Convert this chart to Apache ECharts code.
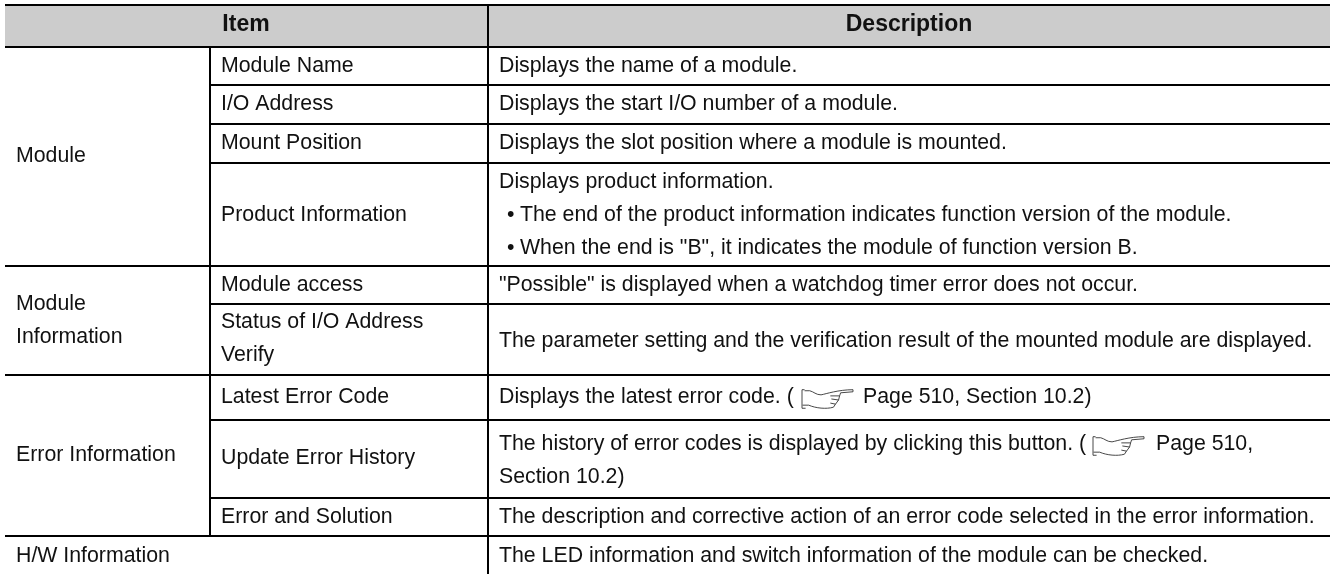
<!DOCTYPE html>
<html><head><meta charset="utf-8">
<style>html,body{margin:0;padding:0;background:#fff}#c{width:1330px;height:574px}</style>
<script src="https://cdn.jsdelivr.net/npm/echarts@6/dist/echarts.min.js"></script>
</head><body><div id="c"></div>
<script>
const headers = ['Item', 'Description'];
const groups = ['Module', 'Module', 'Information', 'Error Information', 'H/W Information'];
const items = ['Module Name', 'I/O Address', 'Mount Position', 'Product Information', 'Module access',
  'Status of I/O Address', 'Verify', 'Latest Error Code', 'Update Error History', 'Error and Solution'];
const descriptions = [
  'Displays the name of a module.',
  'Displays the start I/O number of a module.',
  'Displays the slot position where a module is mounted.',
  'Displays product information.',
  '"Possible" is displayed when a watchdog timer error does not occur.',
  'The parameter setting and the verification result of the mounted module are displayed.',
  'Displays the latest error code. (',
  'The history of error codes is displayed by clicking this button. (',
  'Section 10.2)',
  'The description and corrective action of an error code selected in the error information.',
  'The LED information and switch information of the module can be checked.'
];
const bullets = ['The end of the product information indicates function version of the module.',
  'When the end is "B", it indicates the module of function version B.'];
const pageRefs = ['Page 510, Section 10.2)', 'Page 510,'];

// layout (page pixels, mapped through the hidden axes)
const headerY = 25;
const groupY = [156, 304, 337, 455, 556];
const itemY = [66, 104, 143, 215, 285, 322, 355, 397, 458, 517];
const descY = [66, 104, 143, 182, 285, 341, 397, 444, 477, 517, 556];
const bulletY = [215, 248];
const refX = [863, 1156], refY = [397, 444];
const handX = [802, 1093], handY = [389, 436];
const fullLines = [5, 47, 266, 375, 536];
const innerLines = [85, 124, 163, 304, 420, 498];
const colX = [210, 488];
const left = 5, right = 1330, bottom = 574, innerBottom = 537;

const handPath = 'M3 1L0.5 1L0.5 19L4 19M3 2L8 2C12 3 14 6 19 6C24 5 36 1 50 1L50 3L38 4L37 7L28 7M37 7L36 11L29 10M36 11L33 15L28 14M33 15L31 18C24 20 14 19 7 16L1 16';

const lines = [];
fullLines.forEach(y => lines.push([left, y, right, y]));
innerLines.forEach(y => lines.push([colX[0], y, right, y]));
lines.push([colX[1], left, colX[1], bottom]);
lines.push([colX[0], fullLines[1], colX[0], innerBottom]);

const texts = [];
texts.push([246, headerY, headers[0], 'center', 1]);
texts.push([909, headerY, headers[1], 'center', 1]);
groups.forEach((t, i) => texts.push([16, groupY[i], t, 'left', 0]));
items.forEach((t, i) => texts.push([221, itemY[i], t, 'left', 0]));
descriptions.forEach((t, i) => texts.push([499, descY[i], t, 'left', 0]));
bullets.forEach((t, i) => {
  texts.push([507, bulletY[i], '\u2022', 'left', 0]);
  texts.push([520, bulletY[i], t, 'left', 0]);
});
pageRefs.forEach((t, i) => texts.push([refX[i], refY[i], t, 'left', 0]));

const font = '"Liberation Sans", Arial, sans-serif';
const chart = echarts.init(document.getElementById('c'), null, {renderer: 'canvas'});
chart.setOption({
  animation: false,
  backgroundColor: '#fff',
  grid: {left: 0, right: 0, top: 0, bottom: 0},
  xAxis: {type: 'value', min: 0, max: 1330, show: false},
  yAxis: {type: 'value', min: 0, max: 574, inverse: true, show: false},
  series: [
    {
      type: 'custom', coordinateSystem: 'cartesian2d', silent: true, z: 1,
      data: [[left, fullLines[0], right, fullLines[1]]],
      renderItem: (p, api) => {
        const a = api.coord([api.value(0), api.value(1)]), b = api.coord([api.value(2), api.value(3)]);
        return {type: 'rect', shape: {x: a[0], y: a[1], width: b[0] - a[0], height: b[1] - a[1]}, style: {fill: '#cccccc'}};
      }
    },
    {
      type: 'custom', coordinateSystem: 'cartesian2d', silent: true, z: 2,
      data: lines,
      renderItem: (p, api) => {
        const a = api.coord([api.value(0), api.value(1)]), b = api.coord([api.value(2), api.value(3)]);
        const vertical = a[0] === b[0];
        return {type: 'rect',
          shape: vertical ? {x: a[0] - 1, y: a[1] - 1, width: 2, height: b[1] - a[1] + 1}
                          : {x: a[0], y: a[1] - 1, width: b[0] - a[0], height: 2},
          style: {fill: '#000'}};
      }
    },
    {
      type: 'custom', coordinateSystem: 'cartesian2d', silent: true, z: 3,
      encode: {x: 0, y: 1},
      data: texts.map(t => ({value: [t[0], t[1]], text: t[2], align: t[3], bold: t[4]})),
      renderItem: (p, api) => {
        const t = texts[p.dataIndex];
        const a = api.coord([t[0], t[1]]);
        return {type: 'text', x: a[0], y: a[1], style: {
          text: t[2], fill: '#111', align: t[3], verticalAlign: 'middle',
          font: (t[4] ? 'bold 23px ' : '21.3px ') + font}};
      }
    },
    {
      type: 'custom', coordinateSystem: 'cartesian2d', silent: true, z: 3,
      data: handX.map((x, i) => [x, handY[i]]),
      renderItem: (p, api) => {
        const a = api.coord([api.value(0), api.value(1)]);
        return {type: 'path', x: a[0], y: a[1], shape: {pathData: handPath, x: 0, y: 0, width: 51, height: 20, layout: 'center'},
          style: {fill: 'none', stroke: '#333', lineWidth: 0.9}};
      }
    }
  ]
});
</script></body></html>
